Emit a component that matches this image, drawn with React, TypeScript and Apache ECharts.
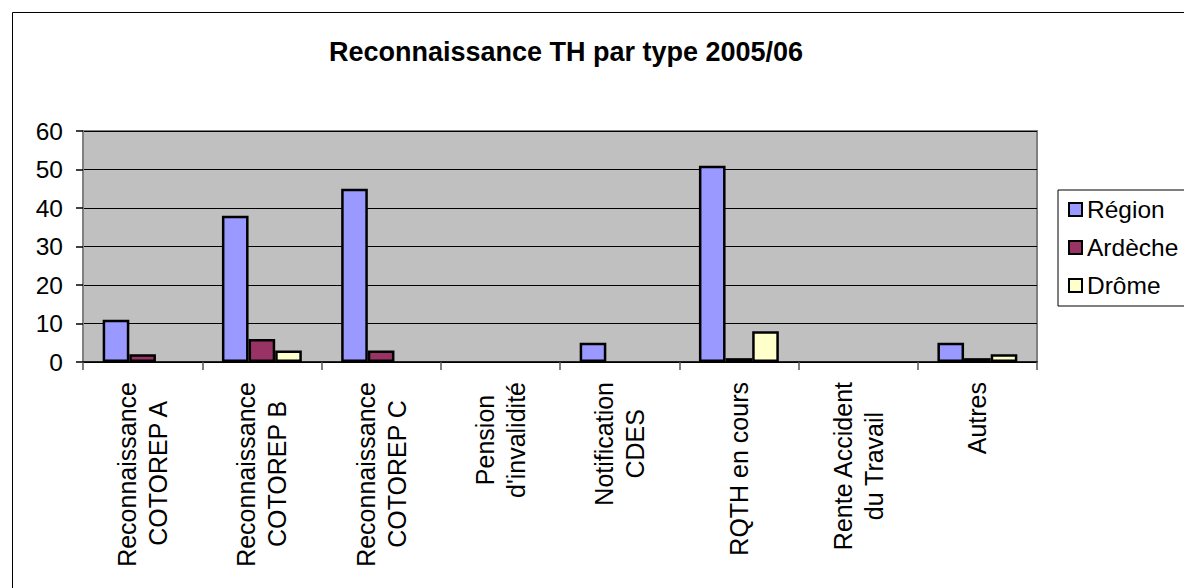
import React, { useEffect, useRef } from "react";
import * as echarts from "echarts";

const categories = [
  "Reconnaissance\nCOTOREP A",
  "Reconnaissance\nCOTOREP B",
  "Reconnaissance\nCOTOREP C",
  "Pension\nd'invalidité",
  "Notification\nCDES",
  "RQTH en cours",
  "Rente Accident\ndu Travail",
  "Autres",
];
const seriesNames = ["Région", "Ardèche", "Drôme"];
const region = [11, 38, 45, 0, 5, 51, 0, 5];
const ardeche = [2, 6, 3, 0, 0, 1, 0, 1];
const drome = [0, 3, 0, 0, 0, 8, 0, 2];
const colors = ["#9999FF", "#993366", "#FFFFCC"];
const yTicks = { min: 0, max: 60, interval: 10 };
const title = "Reconnaissance TH par type 2005/06";

const FONT = "'Liberation Sans', Arial, sans-serif";
const LABEL_SIZE = 25;

// Arial / Liberation Sans advance widths (per 1000 em) for line centering
const CHAR_W: Record<string, number> = {
  " ": 278, "'": 191, A: 667, B: 667, C: 722, D: 722, E: 667, H: 722, N: 722, O: 778,
  P: 667, Q: 778, R: 722, S: 667, T: 611, a: 556, c: 500, d: 556, e: 556, "é": 556,
  f: 278, i: 222, l: 222, n: 556, o: 556, r: 333, s: 500, t: 278, u: 556, v: 500,
};
const textWidth = (s: string) =>
  (s.split("").reduce((acc, ch) => acc + (CHAR_W[ch] ?? 556), 0) * LABEL_SIZE) / 1000;

function buildLabelRich() {
  const rich: Record<string, any> = {};
  const texts: string[] = [];
  categories.forEach((cat, i) => {
    const lines = cat.split("\n");
    const widths = lines.map(textWidth);
    const maxW = Math.max(...widths);
    texts.push(
      lines
        .map((l, j) => {
          const key = `s${i}x${j}`;
          rich[key] = {
            fontSize: LABEL_SIZE,
            lineHeight: 31,
            fontFamily: FONT,
            color: "#000",
            padding: [0, (maxW - widths[j]) / 2, 0, 0],
          };
          return `{${key}|${l}}`;
        })
        .join("\n")
    );
  });
  return { rich, texts };
}

export default function App() {
  const ref = useRef<HTMLDivElement>(null);
  useEffect(() => {
    if (!ref.current) return;
    const chart = echarts.init(ref.current, null, { renderer: "svg" });
    const values = [region, ardeche, drome];
    const { rich, texts } = buildLabelRich();
    chart.setOption({
      animation: false,
      backgroundColor: "#ffffff",
      textStyle: { fontFamily: FONT },
      title: {
        text: title,
        left: 566,
        textAlign: "center",
        top: 38,
        padding: 0,
        textStyle: { fontSize: 27, fontWeight: "bold", color: "#000", fontFamily: FONT },
      },
      graphic: [
        {
          type: "rect",
          shape: { x: 12.5, y: 12.5, width: 1200, height: 620 },
          style: { fill: "none", stroke: "#000", lineWidth: 1 },
          silent: true,
          z: 100,
        },
      ],
      legend: {
        orient: "vertical",
        left: 1058,
        top: 190,
        padding: [7, 10, 8, 10],
        itemGap: 13,
        itemWidth: 13,
        itemHeight: 13,
        icon: "rect",
        borderColor: "#000",
        borderWidth: 1,
        backgroundColor: "#fff",
        data: seriesNames,
        textStyle: { fontSize: 24.5, lineHeight: 25, color: "#000", fontFamily: FONT },
        itemStyle: { borderColor: "#000", borderWidth: 2 },
      },
      grid: {
        left: 83,
        top: 131,
        width: 954,
        height: 231,
        show: true,
        backgroundColor: "#C0C0C0",
        borderColor: "#808080",
        borderWidth: 2,
      },
      xAxis: {
        type: "category",
        data: categories,
        axisLine: { show: true, lineStyle: { color: "#000", width: 1.5 } },
        axisTick: { show: true, length: 8, lineStyle: { color: "#555", width: 1.5 } },
        axisLabel: {
          interval: 0,
          rotate: 90,
          margin: 20,
          color: "#000",
          fontSize: LABEL_SIZE,
          fontFamily: FONT,
          formatter: (v: string, idx: number) => {
            const k = categories.indexOf(v);
            const i = k >= 0 ? k : idx;
            return texts[i] ?? v;
          },
          rich,
        },
        splitLine: { show: false },
      },
      yAxis: {
        type: "value",
        min: yTicks.min,
        max: yTicks.max,
        interval: yTicks.interval,
        axisLine: { show: true, lineStyle: { color: "#808080", width: 2 } },
        axisTick: { show: true, length: 7, lineStyle: { color: "#000", width: 1.5 } },
        axisLabel: { margin: 20, color: "#000", fontSize: 24.5, fontFamily: FONT },
        splitLine: { show: true, lineStyle: { color: "#000", width: 1 } },
      },
      series: seriesNames.map((name, i) => ({
        name,
        type: "bar",
        barGap: "0%",
        barCategoryGap: "33%",
        data: values[i].map((v) => (v === 0 ? null : v)),
        itemStyle: { color: colors[i], borderColor: "#000", borderWidth: 2.5 },
      })),
    });
    return () => chart.dispose();
  }, []);
  return (
    <div
      ref={ref}
      style={{ position: "fixed", left: 0, top: 0, width: 1184, height: 588 }}
    />
  );
}
